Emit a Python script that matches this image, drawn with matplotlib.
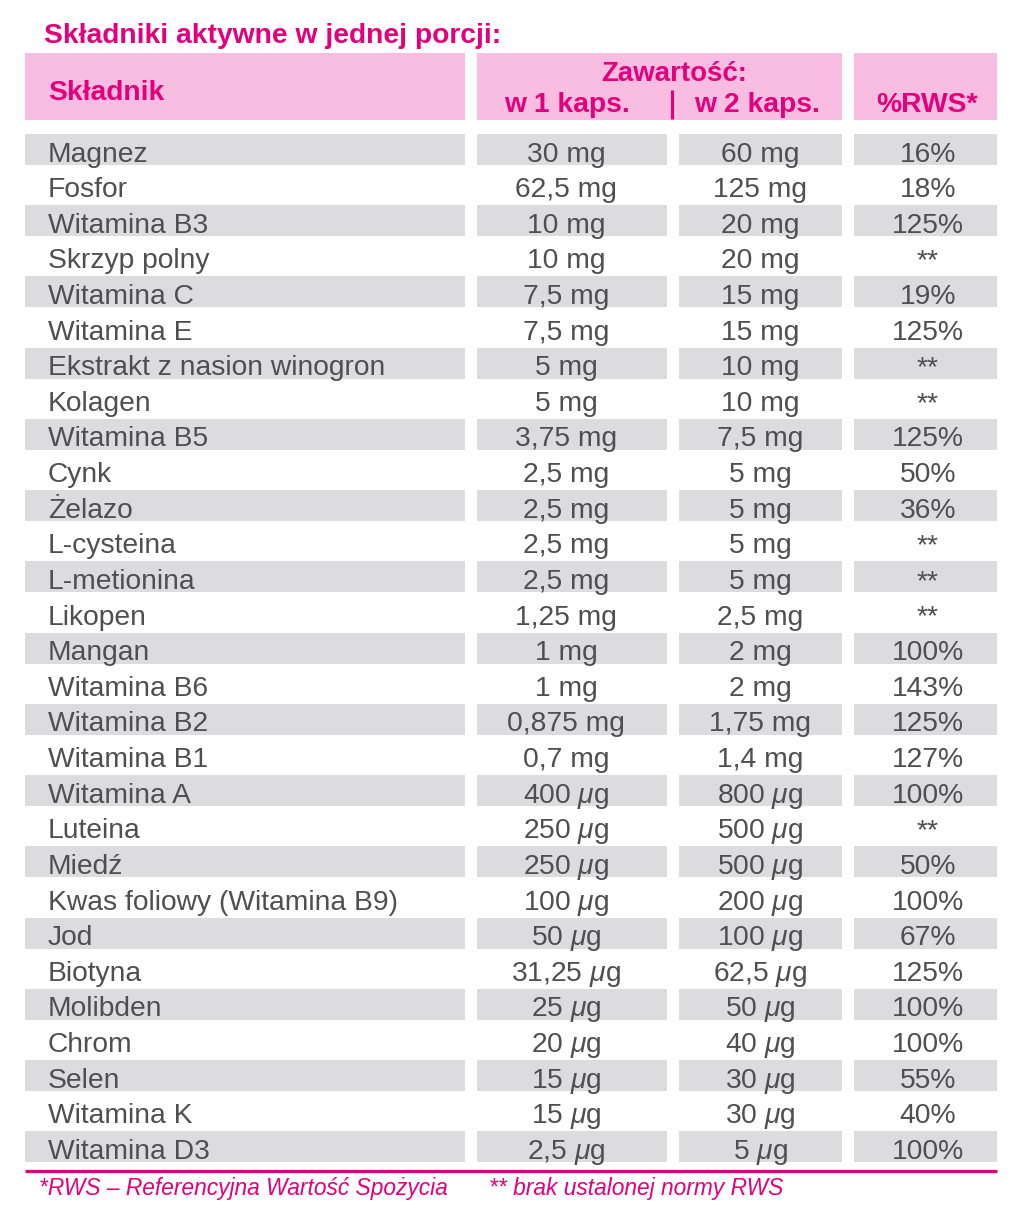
import matplotlib
matplotlib.use("Agg")
import matplotlib.pyplot as plt
from matplotlib import font_manager
from matplotlib.patches import Rectangle

names = set(f.name for f in font_manager.fontManager.ttflist)
NARROW = "Liberation Sans Narrow" in names
FONT = "Liberation Sans Narrow" if NARROW else "Liberation Sans"
# Arial-like fallback is wider than the condensed original, so shrink it
K = 1.0 if NARROW else 0.83

plt.rcParams["mathtext.fontset"] = "custom"
plt.rcParams["mathtext.rm"] = FONT
plt.rcParams["mathtext.it"] = FONT + ":italic"

title = "Składniki aktywne w jednej porcji:"
head_name = "Składnik"
head_group = "Zawartość:"
head_cols = ["w 1 kaps.", "w 2 kaps.", "%RWS*"]
footnotes = ["*RWS – Referencyjna Wartość Spożycia", "** brak ustalonej normy RWS"]

ingredients = ["Magnez", "Fosfor", "Witamina B3", "Skrzyp polny", "Witamina C",
               "Witamina E", "Ekstrakt z nasion winogron", "Kolagen", "Witamina B5",
               "Cynk", "Żelazo", "L-cysteina", "L-metionina", "Likopen", "Mangan",
               "Witamina B6", "Witamina B2", "Witamina B1", "Witamina A", "Luteina",
               "Miedź", "Kwas foliowy (Witamina B9)", "Jod", "Biotyna", "Molibden",
               "Chrom", "Selen", "Witamina K", "Witamina D3"]
dose1 = ["30 mg", "62,5 mg", "10 mg", "10 mg", "7,5 mg", "7,5 mg", "5 mg", "5 mg",
         "3,75 mg", "2,5 mg", "2,5 mg", "2,5 mg", "2,5 mg", "1,25 mg", "1 mg", "1 mg",
         "0,875 mg", "0,7 mg", "400 µg", "250 µg", "250 µg", "100 µg", "50 µg",
         "31,25 µg", "25 µg", "20 µg", "15 µg", "15 µg", "2,5 µg"]
dose2 = ["60 mg", "125 mg", "20 mg", "20 mg", "15 mg", "15 mg", "10 mg", "10 mg",
         "7,5 mg", "5 mg", "5 mg", "5 mg", "5 mg", "2,5 mg", "2 mg", "2 mg",
         "1,75 mg", "1,4 mg", "800 µg", "500 µg", "500 µg", "200 µg", "100 µg",
         "62,5 µg", "50 µg", "40 µg", "30 µg", "30 µg", "5 µg"]
rws = ["16%", "18%", "125%", "**", "19%", "125%", "**", "**", "125%", "50%", "36%",
       "**", "**", "**", "100%", "143%", "125%", "127%", "100%", "**", "50%", "100%",
       "67%", "125%", "100%", "100%", "55%", "40%", "100%"]

MAG = "#E4007C"
PINK = "#F8BDE0"
GRAY = "#DCDCDE"
TXT = "#4F4F4F"

fig = plt.figure(figsize=(10.24, 12.13), dpi=100)
ax = fig.add_axes([0, 0, 1, 1])
ax.set_xlim(0, 1024)
ax.set_ylim(1213, 0)
ax.axis("off")

# column bands (left, right) and text anchor
cols = [(25, 465), (477, 667), (679, 842), (854, 997)]
centers = [48, 566, 760, 928]

# title
ax.text(44, 43, title, color=MAG, fontsize=24.5 * K, fontweight="bold",
        family=FONT, va="baseline", ha="left")

# header boxes
for l, r in [(25, 465), (477, 842), (854, 997)]:
    ax.add_patch(Rectangle((l, 53), r - l, 67, color=PINK, lw=0))
ax.text(48, 100, head_name, color=MAG, fontsize=24.5 * K, fontweight="bold",
        family=FONT, va="baseline", ha="left")
ax.text(674, 81, head_group, color=MAG, fontsize=24 * K, fontweight="bold",
        family=FONT, va="baseline", ha="center")
for c, lab in zip([567, 757, 927], head_cols):
    ax.text(c, 112, lab, color=MAG, fontsize=24.5 * K, fontweight="bold",
            family=FONT, va="baseline", ha="center")
ax.plot([672, 672], [90, 119], color=MAG, lw=2.2, solid_capstyle="butt")

# rows
top0, pitch, band_h = 134, 35.62, 31
for i, row in enumerate(zip(ingredients, dose1, dose2, rws)):
    top = top0 + i * pitch
    if i % 2 == 0:
        for l, r in cols:
            ax.add_patch(Rectangle((l, top), r - l, band_h, color=GRAY, lw=0))
    base = top + 27.5
    for j, val in enumerate(row):
        ax.text(centers[j], base, val.replace("µ", r"$\mu$"), color=TXT,
                fontsize=24.5 * K, family=FONT,
                va="baseline", ha="left" if j == 0 else "center")

# bottom rule and footnotes
ax.plot([25, 997], [1170.5, 1170.5], color=MAG, lw=2.3, solid_capstyle="butt")
ax.text(39, 1195, footnotes[0], color=MAG, fontsize=19.8 * K, style="italic",
        family=FONT, va="baseline", ha="left")
ax.text(489, 1195, footnotes[1], color=MAG, fontsize=19.8 * K, style="italic",
        family=FONT, va="baseline", ha="left")

fig.savefig("out.png", dpi=100)
